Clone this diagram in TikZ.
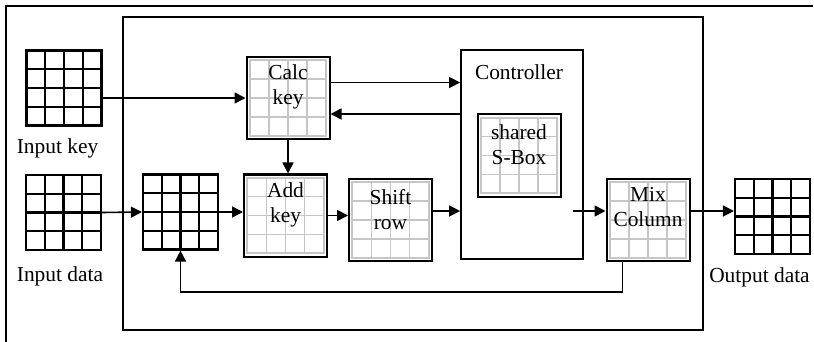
\documentclass[tikz,border=0pt]{standalone}
\usepackage{fontspec}
\setmainfont{Liberation Serif}
\usetikzlibrary{arrows.meta,calc}

% 4x4 cells inside a node, #1 = inset, #2 = line look
\newcommand\cellgrid[2]{%
  \coordinate (gA) at ([shift={(#1,-#1)}]path picture bounding box.north west);
  \coordinate (gB) at ([shift={(-#1,#1)}]path picture bounding box.south east);
  \foreach \f in {0.25,0.5,0.75}{
    \draw[#2] ($(gA)!\f!(gA -| gB)$) -- ($(gA |- gB)!\f!(gB)$);
    \draw[#2] ($(gA)!\f!(gA |- gB)$) -- ($(gA -| gB)!\f!(gB)$);
  }}

\begin{document}
\begin{tikzpicture}[x=0.5pt,y=-0.5pt,
  lbl/.style={font=\fontsize{10.7}{12.5}\selectfont,inner sep=0pt,align=center},
  bgrid/.style={draw,line width=1.1pt,minimum width=37.5pt,minimum height=37.5pt,inner sep=0pt,
     path picture={\cellgrid{0pt}{line width=1.1pt}}},
  gbox/.style={draw,line width=1pt,minimum width=41.5pt,minimum height=41pt,inner sep=0pt,
     path picture={\cellgrid{1.6pt}{gray!45,line width=0.8pt}
       \draw[gray!45,line width=0.9pt] (gA) rectangle (gB);}},
  arr/.style={-{Triangle[length=5.5pt,width=5.5pt]},line width=0.8pt}]
\useasboundingbox (0,0) rectangle (814,342);
\draw[line width=1.1pt] (6,342) |- (813,6);
\node[draw,line width=1.1pt,minimum width=290pt,minimum height=156.5pt,inner sep=0pt] (core) at (413,173.5) {};

% inputs and output
\node[bgrid] (inkey) at (64,88) {};
\node[lbl] (inkeyt) at (57.5,148) {Input key};
\node[bgrid] (indata) at (63.5,212.5) {};
\node[lbl] (indatat) at (60,276) {Input data};
\node[bgrid] (reg) at (180.5,212) {};
\node[bgrid] (out) at (772.5,216.5) {};
\node[lbl] (outt) at (759.5,277) {Output data};

% round units
\node[gbox] (calc) at (288,98) {};
\node[lbl] (calct) at ([yshift=5.5pt]calc.center) {Calc\\key};
\node[gbox] (add) at (285.5,215.5) {};
\node[lbl] (addt) at ([yshift=5.5pt]add.center) {Add\\key};
\node[gbox] (shift) at (390.5,220) {};
\node[lbl] (shiftt) at ([yshift=5pt]shift.center) {Shift\\row};
\node[draw,line width=0.9pt,minimum width=61pt,minimum height=104.5pt,inner sep=0pt] (ctrl) at (522,154.5) {};
\node[lbl] (ctrlt) at (519,72) {Controller};
\node[gbox] (sbox) at (519,155.5) {};
\node[lbl] (sboxt) at ([yshift=5.5pt]sbox.center) {shared\\S-Box};
\node[gbox] (mix) at (648,220) {};
\node[lbl] (mixt) at ([yshift=6.5pt]mix.center) {Mix\\Column};
\coordinate (cout) at (573,211);

% data flow
\draw[arr] (inkey.east |- calc.west) -- (calc.west);
\draw[arr] (indata.east) -- (reg.west);
\draw[arr] (reg.east) -- (reg.east -| add.west);
\draw[arr] (calc.south) -- (calc.south |- add.north);
\draw[arr] (add.east) -- (add.east -| shift.west);
\draw[arr] ([yshift=4.5pt]shift.east) -- ([yshift=4.5pt]shift.east -| ctrl.west);
\draw[arr] ([yshift=7.75pt]calc.east) -- ([yshift=7.75pt]calc.east -| ctrl.west);
\draw[arr] ([yshift=-8pt]calc.east -| ctrl.west) -- ([yshift=-8pt]calc.east);
\draw[arr] (cout) -- (cout -| mix.west);
\draw[arr] ([yshift=4.5pt]mix.east) -- ([yshift=4.5pt]mix.east -| out.west);
\draw[arr] ($(mix.south west)!0.2!(mix.south east)$) -- ++(0,30) -| (reg.south);
\end{tikzpicture}
\end{document}
